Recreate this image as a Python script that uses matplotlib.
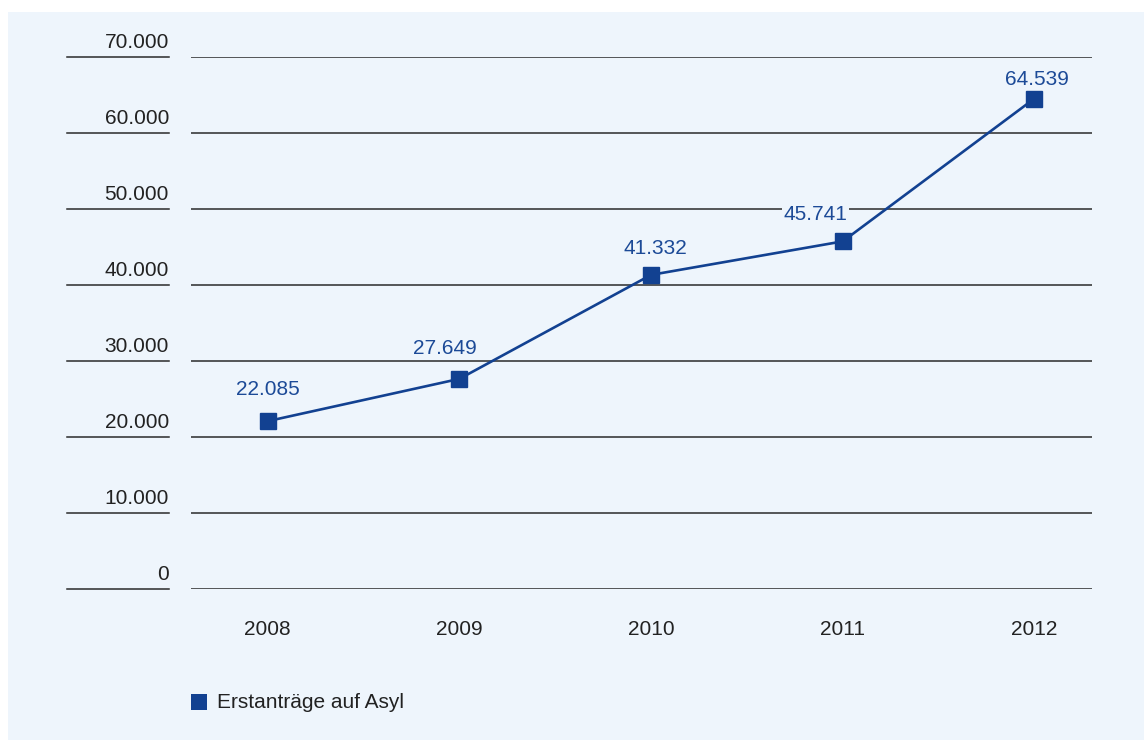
import matplotlib.pyplot as plt
from matplotlib.patches import Rectangle
from matplotlib.lines import Line2D

years = ['2008', '2009', '2010', '2011', '2012']
antraege = [22085, 27649, 41332, 45741, 64539]
label_texts = ['22.085', '27.649', '41.332', '45.741', '64.539']
y_ticks = [0, 10000, 20000, 30000, 40000, 50000, 60000, 70000]
y_tick_labels = ['0', '10.000', '20.000', '30.000', '40.000', '50.000', '60.000', '70.000']
series_name = 'Erstanträge auf Asyl'

# label offsets in pixels (dx, dy) from each marker to the label centre
label_offsets = [(0, 32), (-15, 30), (4, 26), (-27, 27), (2, 19)]

BLUE = '#124191'
BG = '#eef5fc'
W, H = 1144, 740

plt.rcParams['font.family'] = ['Liberation Sans', 'DejaVu Sans']

fig = plt.figure(figsize=(W / 100, H / 100), dpi=100)
fig.patch.set_facecolor('white')
fig.patches.append(Rectangle((8 / W, 0), 1 - 8 / W, 1 - 12 / H,
                             transform=fig.transFigure, facecolor=BG,
                             edgecolor='none', zorder=-10))

ax = fig.add_axes([191 / W, 1 - 589 / H, (1092 - 191) / W, (589 - 57) / H])
ax.set_facecolor('none')
for s in ax.spines.values():
    s.set_visible(False)

x = list(range(len(years)))
ax.set_xlim(-0.40, 4.30)
ax.set_ylim(0, 70000)

for v in y_ticks:
    ax.axhline(v, color='#2a2a2a', linewidth=1.1, zorder=1)

ax.plot(x, antraege, color=BLUE, linewidth=1.9, marker='s', markersize=11.5,
        markerfacecolor=BLUE, markeredgecolor=BLUE, zorder=3, clip_on=False)

# labels sit between gridlines and the line; their box hides a gridline behind them
for xi, yi, txt, (dx, dy) in zip(x, antraege, label_texts, label_offsets):
    ax.annotate(txt, (xi, yi), xytext=(dx * 0.72, dy * 0.72), textcoords='offset points',
                ha='center', va='center', color='#1c4a97', fontsize=15, zorder=2.5,
                bbox=dict(facecolor=BG, edgecolor='none', pad=1))

ax.set_yticks([])
ax.set_xticks(x)
ax.set_xticklabels(years, fontsize=15, color='#222222')
ax.tick_params(axis='x', length=0, pad=22)

# y labels sit on short underline segments left of the plot
for v, lab in zip(y_ticks, y_tick_labels):
    y_fig = ax.transData.transform((0, v))[1] / fig.dpi / fig.get_figheight()
    fig.add_artist(Line2D([67 / W, 169 / W], [y_fig, y_fig], transform=fig.transFigure,
                          color='#2a2a2a', linewidth=1.1))
    fig.text(169 / W, y_fig + 5 / H, lab, ha='right', va='bottom',
             fontsize=15, color='#222222')

# legend
fig.patches.append(Rectangle((191 / W, 1 - 710 / H), 16 / W, 16 / H,
                             transform=fig.transFigure, facecolor=BLUE,
                             edgecolor='none'))
fig.text(217 / W, 1 - 703 / H, series_name, ha='left', va='center',
         fontsize=15, color='#222222')

fig.savefig('out.png', dpi=100, facecolor=fig.get_facecolor())
